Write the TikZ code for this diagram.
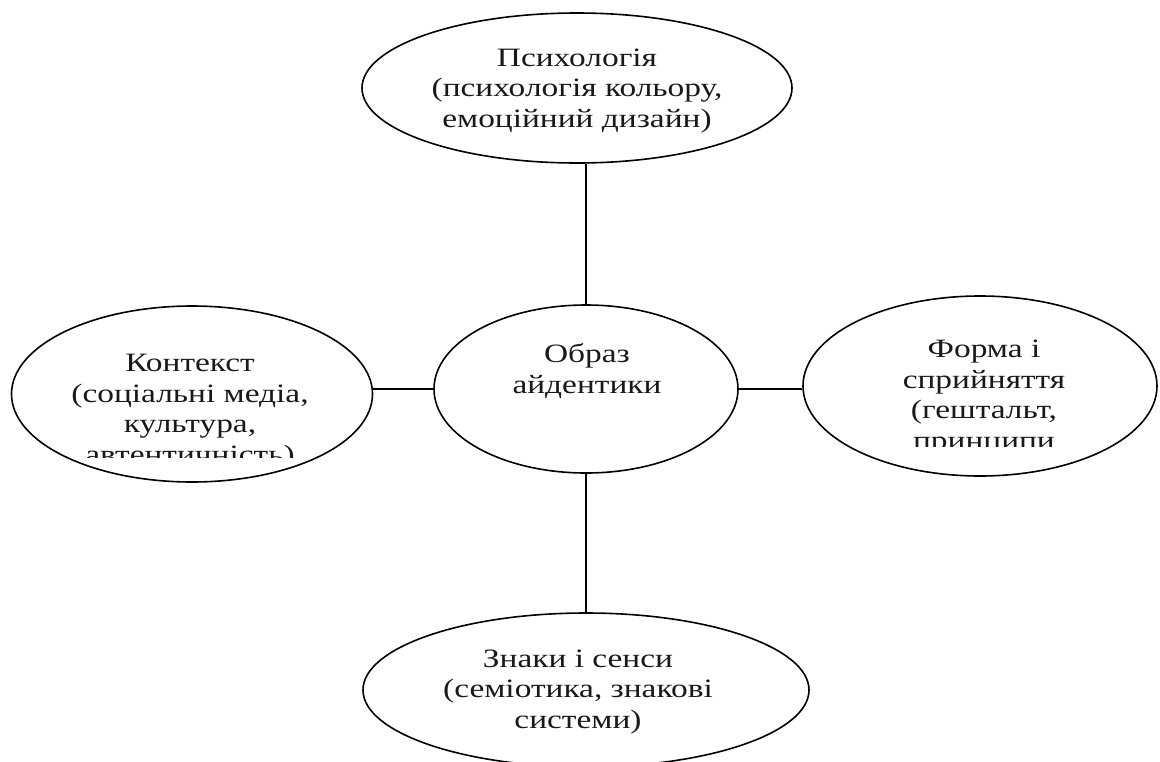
\documentclass[tikz,border=0pt]{standalone}
\usepackage{fontspec}
\setmainfont[FakeStretch=1.26]{Liberation Serif}
\usetikzlibrary{shapes.geometric}
\begin{document}
\begin{tikzpicture}[x=1pt,y=-1pt,
  oval/.style={draw=black,line width=1.6pt,ellipse,inner sep=0pt,fill=none},
  lbl/.style={align=center,anchor=base,inner sep=0pt,font=\fontsize{26.5}{30.5}\selectfont,text=black!90},
  link/.style={draw=black,line width=1.6pt}]
\useasboundingbox[fill=white] (0,0) rectangle (1160,761);
% ellipses
\node[oval,minimum width=430pt,minimum height=150pt] (top) at (577,88) {};
\node[oval,minimum width=304pt,minimum height=168pt] (mid) at (586,389) {};
\node[oval,minimum width=361pt,minimum height=176pt] (left) at (192,394) {};
\node[oval,minimum width=354pt,minimum height=180pt] (right) at (980,386) {};
\node[oval,minimum width=446pt,minimum height=154pt] (bot) at (586,690) {};
% connectors
\draw[link] (mid.north) -- (mid.north |- top.south);
\draw[link] (mid.south) -- (mid.south |- bot.north);
\draw[link] (mid.west) -- (mid.west -| left.east);
\draw[link] (mid.east) -- (mid.east -| right.west);
% texts (anchor base = last line)
\node[lbl] (ttop) at (577,127) {Психологія\\(психологія кольору,\\емоційний дизайн)};
\node[lbl] (tmid) at (587,393) {Образ\\айдентики};
\node[lbl] (tbot) at (578,728) {Знаки і сенси\\(семіотика, знакові\\системи)};
\begin{scope}
\clip (20,320) rectangle (370,457);
\node[lbl] (tleft) at (190,463) {Контекст\\(соціальні медіа,\\культура,\\автентичність)};
\end{scope}
\begin{scope}
\clip (810,320) rectangle (1150,446);
\node[lbl] (tright) at (984,449) {Форма і\\сприйняття\\(гештальт,\\принципи};
\end{scope}
\end{tikzpicture}
\end{document}
